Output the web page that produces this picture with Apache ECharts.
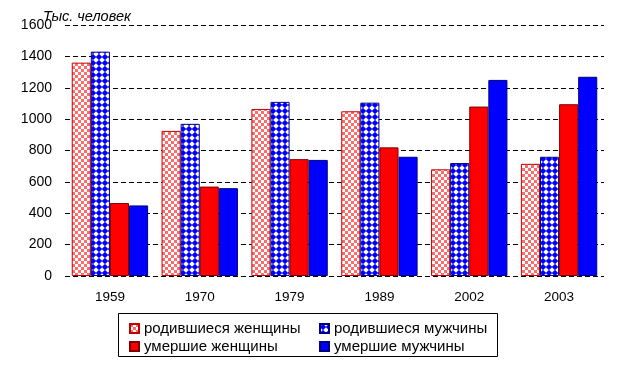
<!DOCTYPE html>
<html><head><meta charset="utf-8">
<script src="https://cdn.jsdelivr.net/npm/echarts@6/dist/echarts.min.js"></script>
<style>html,body{margin:0;padding:0;background:#fff}#c{width:623px;height:366px}</style>
</head><body><div id="c"></div>
<script>
var categories = ['1959', '1970', '1979', '1989', '2002', '2003'];
var bornWomen = [1360, 925, 1065, 1050, 680, 715];
var bornMen = [1430, 970, 1110, 1105, 720, 760];
var diedWomen = [465, 570, 745, 820, 1080, 1095];
var diedMen = [450, 560, 740, 760, 1250, 1270];
var seriesNames = ['родившиеся женщины', 'родившиеся мужчины', 'умершие женщины', 'умершие мужчины'];
var unitLabel = 'Тыс. человек';

function checker() {
  var c = document.createElement('canvas'); c.width = 6; c.height = 6;
  var g = c.getContext('2d');
  g.fillStyle = '#ffffff'; g.fillRect(0, 0, 6, 6);
  g.fillStyle = '#ff6a6a'; g.fillRect(0, 0, 3, 3); g.fillRect(3, 3, 3, 3);
  return c;
}
function diamonds() {
  var c = document.createElement('canvas'); c.width = 6; c.height = 6;
  var g = c.getContext('2d');
  g.fillStyle = '#ffffff'; g.fillRect(0, 0, 6, 6);
  g.fillStyle = '#0000ff';
  var r = 3.2;
  function d(x, y) { g.beginPath(); g.moveTo(x, y - r); g.lineTo(x + r, y); g.lineTo(x, y + r); g.lineTo(x - r, y); g.closePath(); g.fill(); }
  d(3, 3); d(3, -3); d(3, 9);
  return c;
}
var pinkPat = { image: checker(), repeat: 'repeat' };
var bluePat = { image: diamonds(), repeat: 'repeat' };

var chart = echarts.init(document.getElementById('c'), null, { renderer: 'canvas' });
var font = 'Arial, "Liberation Sans", sans-serif';
function bar(name, data, color, border) {
  return { name: name, type: 'bar', data: data, barGap: '0%', barCategoryGap: '15%',
    itemStyle: { color: color, borderColor: border, borderWidth: 1 }, animation: false };
}
var legendText = { fontFamily: font, fontSize: 15, color: '#000' };
chart.setOption({
  animation: false,
  title: { text: unitLabel, left: 38, top: 4, textStyle: { fontFamily: font, fontSize: 14.5, fontStyle: 'italic', fontWeight: 'normal', color: '#000' } },
  grid: { left: 65, right: 19, top: 25, bottom: 90 },
  xAxis: { type: 'category', data: categories,
    axisLine: { show: false }, axisTick: { show: false },
    axisLabel: { fontFamily: font, fontSize: 13.5, color: '#000', margin: 14 } },
  yAxis: { type: 'value', min: 0, max: 1600, interval: 200,
    axisLine: { show: false }, axisTick: { show: false },
    axisLabel: { fontFamily: font, fontSize: 14, color: '#000', margin: 13, formatter: function (v) { return String(v); } },
    splitLine: { show: true, lineStyle: { color: '#000', type: [5, 3], width: 1 } } },
  legend: [
    { data: [seriesNames[0], seriesNames[2]], icon: 'rect', orient: 'vertical', left: 124, top: 316, itemWidth: 9, itemHeight: 9, itemGap: 3,
      textStyle: legendText },
    { data: [seriesNames[1], seriesNames[3]], icon: 'rect', orient: 'vertical', left: 314, top: 316, itemWidth: 9, itemHeight: 9, itemGap: 3,
      textStyle: legendText }
  ],
  graphic: [{ type: 'rect', shape: { x: 118.5, y: 313.5, width: 379, height: 43 }, style: { fill: 'none', stroke: '#000', lineWidth: 1 } }],
  series: [
    bar(seriesNames[0], bornWomen, pinkPat, '#c00000'),
    bar(seriesNames[1], bornMen, bluePat, '#000080'),
    bar(seriesNames[2], diedWomen, '#ff0000', '#800000'),
    bar(seriesNames[3], diedMen, '#0000ff', '#000080')
  ]
});
</script></body></html>
